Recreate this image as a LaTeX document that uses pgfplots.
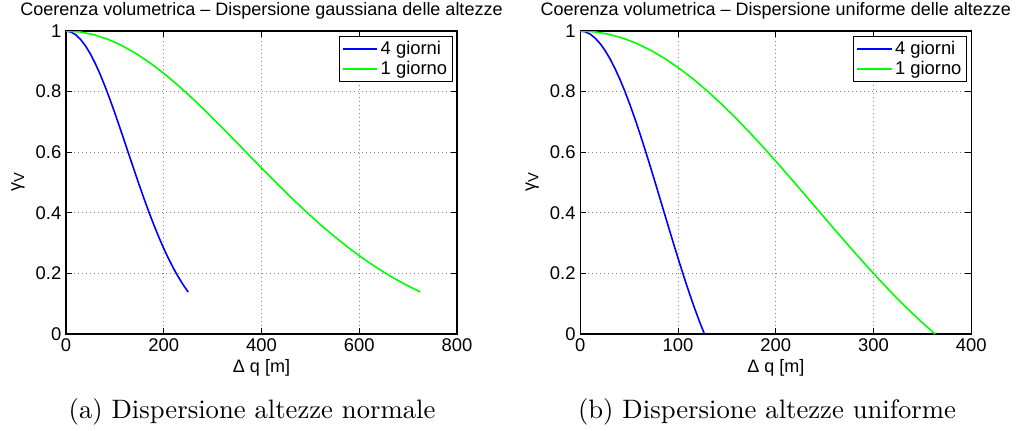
\documentclass[border=0pt]{standalone}
\usepackage{fontspec}
\usepackage{pgfplots}
\pgfplotsset{compat=1.18}
\newfontfamily\hel{Liberation Sans}
\newfontfamily\capfont{lmroman10-regular.otf}
\definecolor{mblue}{rgb}{0,0,1}
\definecolor{mgreen}{rgb}{0,1,0}

\pgfplotsset{
  every axis title/.style={at={(axis description cs:0.5,1)}, anchor=base, yshift=11.5pt,
    font=\hel\fontsize{13.5}{16}\selectfont},
  every axis x label/.style={at={(axis description cs:0.5,0)}, anchor=center, yshift=-25.5pt},
  every axis y label/.style={at={(axis description cs:-0.1228,0.5)}, anchor=center, rotate=90},
  mstyle/.style={
    scale only axis,
    width=293.25pt, height=227.25pt,
    ymin=0, ymax=1,
    ytick={0,0.2,0.4,0.6,0.8,1},
    yticklabels={0,0.2,0.4,0.6,0.8,1},
    axis line style={line width=0.8pt, black},
    tick align=inside,
    major tick length=4.5pt,
    tick style={line width=0.6pt, black},
    xtick pos=both, ytick pos=both,
    grid=major,
    major grid style={gray, line width=0.5pt, dash pattern=on 0.75pt off 2.25pt},
    /pgf/number format/assume math mode=true,
    tick label style={font=\hel\fontsize{13.8}{16}\selectfont},
    label style={font=\hel\fontsize{13.5}{16}\selectfont},
    xlabel={Δ q [m]},
    ylabel={γ\raisebox{-0.35ex}{\fontsize{11}{13}\selectfont V}},
    legend style={font=\hel\fontsize{13.8}{16}\selectfont, draw=black, line width=0.8pt,
      at={(axis description cs:0.99,0.983)}, anchor=north east,
      inner xsep=2pt, inner ysep=1.5pt, row sep=-0.5pt},
    legend cell align=left,
    legend image code/.code={\draw[#1,line width=1.2pt] (0pt,0pt) -- (26pt,0pt);},
    every axis plot/.append style={line width=1.2pt},
  }
}

\begin{document}
\begin{tikzpicture}
\path[use as bounding box] (-49.5pt,-72pt) rectangle (712.5pt,250.5pt);

\begin{axis}[mstyle, name=ax1, at={(0pt,0pt)}, anchor=south west,
  xmin=0, xmax=800, xtick={0,200,400,600,800},
  title={Coerenza volumetrica – Dispersione gaussiana delle altezze}]
\addplot[mblue] coordinates {
(0,1) (10,0.99684) (20,0.98743) (30,0.97195) (40,0.95067) (50,0.92400)
(60,0.89242) (70,0.85648) (80,0.81681) (90,0.77405) (100,0.72895)
(110,0.68210) (120,0.63428) (130,0.58607) (140,0.53811) (150,0.49096)
(160,0.44514) (170,0.40104) (180,0.35900) (190,0.31940) (200,0.28234)
(210,0.24802) (220,0.21647) (230,0.18779) (240,0.16185) (250,0.13861)};
\addlegendentry{4 giorni}
\addplot[mgreen] coordinates {
(0,1) (29,0.99684) (58,0.98743) (87,0.97195) (116,0.95067) (145,0.92400)
(174,0.89242) (203,0.85648) (232,0.81681) (261,0.77405) (290,0.72895)
(319,0.68210) (348,0.63428) (377,0.58607) (406,0.53811) (435,0.49096)
(464,0.44514) (493,0.40104) (522,0.35900) (551,0.31940) (580,0.28234)
(609,0.24802) (638,0.21647) (667,0.18779) (696,0.16185) (725,0.13861)};
\addlegendentry{1 giorno}
\end{axis}

\begin{axis}[mstyle, name=ax2, at={(385.7pt,0pt)}, anchor=south west,
  xmin=0, xmax=400, xtick={0,100,200,300,400},
  title={Coerenza volumetrica – Dispersione uniforme delle altezze}]
\addplot[mblue] coordinates {
(0,1) (5.08,0.99737) (10.16,0.98951) (15.24,0.97648) (20.32,0.95842)
(25.4,0.93549) (30.48,0.90791) (35.56,0.87594) (40.64,0.83987) (45.72,0.80004)
(50.8,0.75683) (55.88,0.71062) (60.96,0.66184) (66.04,0.61093) (71.12,0.55834)
(76.2,0.50455) (81.28,0.45003) (86.36,0.39523) (91.44,0.34064) (96.52,0.28671)
(101.6,0.23387) (106.68,0.18256) (111.76,0.13316) (116.84,0.08604)
(121.92,0.04156) (127,0)};
\addlegendentry{4 giorni}
\addplot[mgreen] coordinates {
(0,1) (14.52,0.99737) (29.04,0.98951) (43.56,0.97648) (58.08,0.95842)
(72.6,0.93549) (87.12,0.90791) (101.64,0.87594) (116.16,0.83987) (130.68,0.80004)
(145.2,0.75683) (159.72,0.71062) (174.24,0.66184) (188.76,0.61093) (203.28,0.55834)
(217.8,0.50455) (232.32,0.45003) (246.84,0.39523) (261.36,0.34064) (275.88,0.28671)
(290.4,0.23387) (304.92,0.18256) (319.44,0.13316) (333.96,0.08604)
(348.48,0.04156) (363,0)};
\addlegendentry{1 giorno}
\end{axis}

\node[font=\capfont\fontsize{20}{24}\selectfont, anchor=center]
  at ([xshift=139.5pt, yshift=-58.3pt]ax1.south west) {(a) Dispersione altezze normale};
\node[font=\capfont\fontsize{20}{24}\selectfont, anchor=center]
  at ([xshift=140pt, yshift=-58.3pt]ax2.south west) {(b) Dispersione altezze uniforme};
\end{tikzpicture}
\end{document}
